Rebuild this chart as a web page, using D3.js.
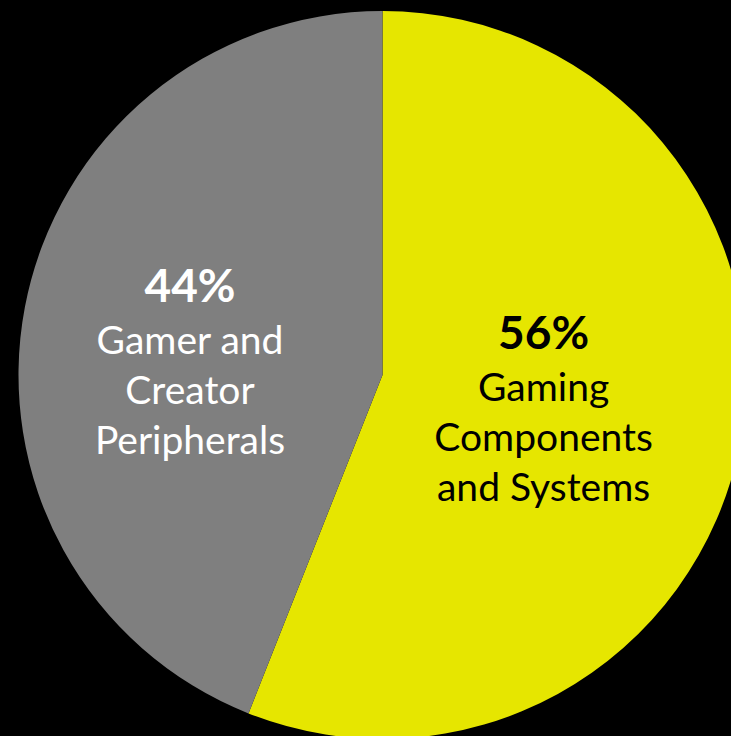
<!DOCTYPE html>
<html>
<head>
<meta charset="utf-8">
<script src="https://cdn.jsdelivr.net/npm/d3@7"></script>
<style>
html,body{margin:0;padding:0;background:#000;}
svg{display:block;}
</style>
</head>
<body>
<svg id="chart" width="731" height="736"></svg>
<script>
const categories = ["Gaming Components and Systems", "Gamer and Creator Peripherals"];
const values = [56, 44];
const labelLines = [["Gaming", "Components", "and Systems"], ["Gamer and", "Creator", "Peripherals"]];
const pctLabels = ["56%", "44%"];

const colors = ["#e6e600", "#7f7f7f"];
const textColors = ["#000000", "#ffffff"];

const svg = d3.select("#chart");
const cx = 382.5, cy = 375, R = 364;
const g = svg.append("g").attr("transform", `translate(${cx},${cy})`);

const pie = d3.pie().sort(null).value(d => d)(values);
const arc = d3.arc().innerRadius(0).outerRadius(R);

g.selectAll("path.slice").data(pie).enter().append("path")
  .attr("class", "slice")
  .attr("d", arc)
  .attr("fill", (d, i) => colors[i]);

// label anchors: centroid of label arcs
const labelRadius = [164, 196];
const labelDy = [-57, -36];
const font = "Lato, 'Open Sans', sans-serif";
pie.forEach((d, i) => {
  const la = d3.arc().innerRadius(labelRadius[i]).outerRadius(labelRadius[i]);
  const [x, y] = la.centroid(d);
  const t = g.append("text")
    .attr("x", x).attr("y", y + labelDy[i])
    .attr("text-anchor", "middle")
    .attr("fill", textColors[i])
    .style("font-family", font);
  t.append("tspan").attr("x", x).attr("dy", 0)
    .style("font-weight", "bold").style("font-size", "46px")
    .text(pctLabels[i]);
  labelLines[i].forEach((line, j) => {
    t.append("tspan").attr("x", x).attr("dy", j === 0 ? 52 : 50)
      .style("font-size", "39px")
      .text(line);
  });
});
</script>
</body>
</html>
